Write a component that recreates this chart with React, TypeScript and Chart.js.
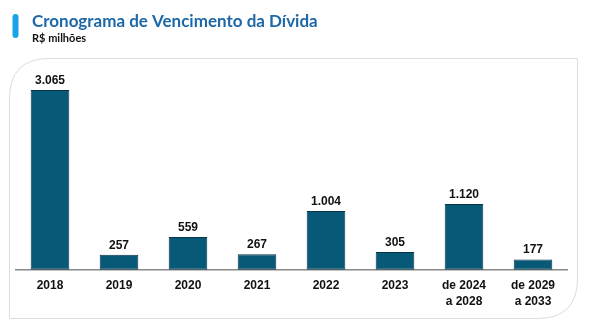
import React, { useEffect, useRef } from "react";
import { Chart, registerables } from "chart.js";

Chart.register(...registerables);

const categories: (string | string[])[] = [
  "2018",
  "2019",
  "2020",
  "2021",
  "2022",
  "2023",
  ["de 2024", "a 2028"],
  ["de 2029", "a 2033"],
];
const values: number[] = [3065, 257, 559, 267, 1004, 305, 1120, 177];
const titleText = "Cronograma de Vencimento da Dívida";
const subtitleText = "R$ milhões";

const fmt = (v: number) => v.toLocaleString("pt-BR");

const decorPlugin = {
  id: "decor",
  beforeDraw(chart: any) {
    const ctx = chart.ctx as CanvasRenderingContext2D;
    ctx.save();
    ctx.fillStyle = "#ffffff";
    ctx.fillRect(0, 0, chart.width, chart.height);
    // box
    const l = 9.5, t = 58.5, r = 577.5, b = 318.5, rad = 40;
    ctx.beginPath();
    ctx.moveTo(l + rad, t);
    ctx.lineTo(r, t);
    ctx.lineTo(r, b - rad);
    ctx.quadraticCurveTo(r, b, r - rad, b);
    ctx.lineTo(l, b);
    ctx.lineTo(l, t + rad);
    ctx.quadraticCurveTo(l, t, l + rad, t);
    ctx.closePath();
    ctx.strokeStyle = "#dcdcdc";
    ctx.lineWidth = 1;
    ctx.stroke();
    // accent bar
    const ax = 12.5, aw = 6, ay = 14, ah = 24;
    ctx.beginPath();
    ctx.moveTo(ax, ay + aw / 2);
    ctx.arc(ax + aw / 2, ay + aw / 2, aw / 2, Math.PI, 2 * Math.PI);
    ctx.lineTo(ax + aw, ay + ah - aw / 2);
    ctx.arc(ax + aw / 2, ay + ah - aw / 2, aw / 2, 0, Math.PI);
    ctx.closePath();
    ctx.fillStyle = "#1ba3e8";
    ctx.fill();
    // title
    ctx.fillStyle = "#1c68a8";
    ctx.font = "bold 17px Lato";
    ctx.textBaseline = "alphabetic";
    ctx.textAlign = "left";
    ctx.fillText(titleText, 32, 27);
    ctx.fillStyle = "#111111";
    ctx.font = "bold 11px Lato";
    ctx.fillText(subtitleText, 32, 41.5);
    ctx.restore();
  },
  afterDatasetsDraw(chart: any) {
    const ctx = chart.ctx as CanvasRenderingContext2D;
    const meta = chart.getDatasetMeta(0);
    ctx.save();
    ctx.fillStyle = "#111111";
    ctx.font = "bold 12px 'Liberation Sans'";
    ctx.textAlign = "center";
    ctx.textBaseline = "middle";
    meta.data.forEach((bar: any, i: number) => {
      ctx.fillText(fmt(values[i]), bar.x, bar.y - 9.5);
    });
    ctx.restore();
  },
};

export default function App() {
  const ref = useRef<HTMLCanvasElement>(null);
  useEffect(() => {
    if (!ref.current) return;
    const chart = new Chart(ref.current, {
      type: "bar",
      data: {
        labels: categories,
        datasets: [
          {
            data: values,
            backgroundColor: "#085877",
            borderColor: "#0a3345",
            borderWidth: 1,
            borderSkipped: false,
            barPercentage: 0.56,
            categoryPercentage: 1,
          },
        ],
      },
      options: {
        animation: false,
        responsive: false,
        maintainAspectRatio: false,
        layout: { padding: { left: 15.5, right: 34.5, top: 61.6, bottom: 13 } },
        plugins: { legend: { display: false }, tooltip: { enabled: false } },
        scales: {
          x: {
            grid: { display: false, drawTicks: false },
            border: { display: true, color: "#888888", width: 1.5 },
            ticks: {
              color: "#111111",
              font: { family: "'Liberation Sans'", size: 12, weight: "bold", lineHeight: 1.3 },
              padding: 8,
              maxRotation: 0,
              autoSkip: false,
            },
          },
          y: {
            display: false,
            min: 0,
            max: 3550,
          },
        },
      },
      plugins: [decorPlugin],
    });
    return () => chart.destroy();
  }, []);
  return (
    <div style={{ position: "fixed", left: 0, top: 0, width: 602, height: 330, background: "#fff" }}>
      <canvas ref={ref} width={602} height={330} style={{ width: 602, height: 330 }} />
    </div>
  );
}
